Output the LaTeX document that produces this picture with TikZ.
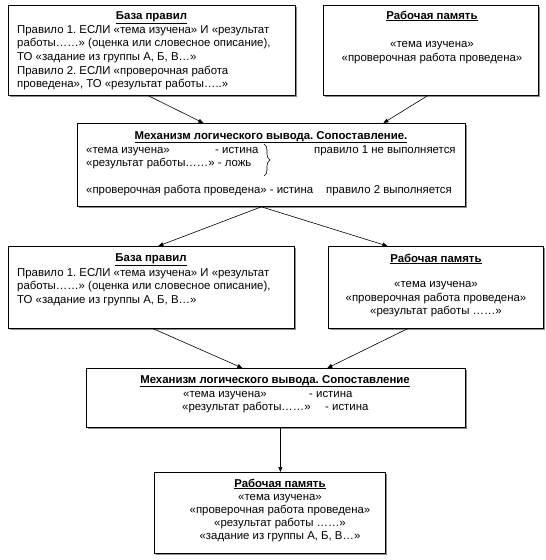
\documentclass[tikz,border=0pt]{standalone}
\usepackage{fontspec}
\setmainfont{Liberation Sans}
\frenchspacing
\usetikzlibrary{arrows.meta,shadows,decorations.pathreplacing}
\begin{document}
\begin{tikzpicture}[x=1pt,y=-1pt,
  box/.style={draw=black, line width=0.8pt, fill=white, inner sep=0pt, anchor=north west,
    drop shadow={shadow xshift=1.5pt, shadow yshift=-1.5pt, fill=black!45, opacity=1}},
  txt/.style={inner sep=0pt, font=\fontsize{11.4}{13.6}\selectfont\frenchspacing},
  lft/.style={txt, anchor=base west},
  ctr/.style={txt, anchor=base},
  arr/.style={-{Triangle[length=5pt,width=4pt]}, line width=0.6pt}]
\useasboundingbox (0,0) rectangle (546,560);
\newcommand{\ttl}[1]{\underline{\textbf{#1}}}

% boxes
\node[box, minimum width=287pt, minimum height=90pt] (b1) at (8,5) {};
\node[box, minimum width=215pt, minimum height=90pt] (b2) at (323,5) {};
\node[box, minimum width=388pt, minimum height=83pt] (b3) at (77,123) {};
\node[box, minimum width=286pt, minimum height=82pt] (b4) at (8,246) {};
\node[box, minimum width=215pt, minimum height=82pt] (b5) at (328,246) {};
\node[box, minimum width=379pt, minimum height=59pt] (b6) at (86,368) {};
\node[box, minimum width=231pt, minimum height=81pt] (b7) at (154,472) {};

% box 1
\node[ctr] (t1) at (151.5,19) {\ttl{База правил}};
\node[lft] (b1l1) at (17,33) {Правило 1. ЕСЛИ «тема изучена» И «результат};
\node[lft] (b1l2) at (17,46.7) {работы……» (оценка или словесное описание),};
\node[lft] (b1l3) at (17,60.4) {ТО «задание из группы А, Б, В…»};
\node[lft] (b1l4) at (17,74.1) {Правило 2. ЕСЛИ «проверочная работа};
\node[lft] (b1l5) at (17,87.8) {проведена», ТО «результат работы…..»};

% box 2
\node[ctr] (t2) at (432,19) {\ttl{Рабочая память}};
\node[ctr] (b2l1) at (432,47) {«тема изучена»};
\node[ctr] (b2l2) at (432,61) {«проверочная работа проведена»};

% box 3
\node[ctr] (t3) at (271,139) {\ttl{Механизм логического вывода. Сопоставление.}};
\node[lft] (b3a) at (86,153) {«тема изучена»};
\node[lft] (b3b) at (215,153) {- истина};
\node[lft] (b3c) at (314,153) {правило 1 не выполняется};
\node[lft] (b3d) at (86,166) {«результат работы……» - ложь};
\node[lft] (b3e) at (86,193) {«проверочная работа проведена» - истина};
\node[lft] (b3f) at (326,193) {правило 2 выполняется};
\draw[line width=0.6pt, decorate, decoration={brace, amplitude=6pt}] (264,144) -- (264,176);

% box 4
\node[ctr] (t4) at (151,261) {\ttl{База правил}};
\node[lft] (b4l1) at (17,276) {Правило 1. ЕСЛИ «тема изучена» И «результат};
\node[lft] (b4l2) at (17,289.5) {работы……» (оценка или словесное описание),};
\node[lft] (b4l3) at (17,303) {ТО «задание из группы А, Б, В…»};

% box 5
\node[ctr] (t5) at (436,262) {\ttl{Рабочая память}};
\node[ctr] (b5l1) at (436,287) {«тема изучена»};
\node[ctr] (b5l2) at (436,301) {«проверочная работа проведена»};
\node[ctr] (b5l3) at (436,314) {«результат работы ……»};

% box 6
\node[ctr] (t6) at (275,383) {\ttl{Механизм логического вывода. Сопоставление}};
\node[lft] (b6a) at (183,397) {«тема изучена»};
\node[lft] (b6b) at (309,397) {- истина};
\node[lft] (b6c) at (182,410) {«результат работы……»};
\node[lft] (b6d) at (325,410) {- истина};

% box 7
\node[ctr] (t7) at (280,487) {\ttl{Рабочая память}};
\node[ctr] (b7l1) at (280,500) {«тема изучена»};
\node[ctr] (b7l2) at (280,513) {«проверочная работа проведена»};
\node[ctr] (b7l3) at (280,526) {«результат работы ……»};
\node[ctr] (b7l4) at (280,539) {«задание из группы А, Б, В…»};

% arrows
\draw[arr] ([xshift=-3.5pt]b1.south) -- ([xshift=-68pt]b3.north);
\draw[arr] ([xshift=-3.5pt]b2.south) -- ([xshift=112pt]b3.north);
\draw[arr] ([xshift=-10pt]b3.south) -- ([xshift=7pt]b4.north);
\draw[arr] ([xshift=-10pt]b3.south) -- ([xshift=-48.5pt]b5.north);
\draw[arr] ([xshift=2pt]b4.south) -- ([xshift=-33.5pt]b6.north);
\draw[arr] ([xshift=-28.5pt]b5.south) -- ([xshift=51.5pt]b6.north);
\draw[arr] ([xshift=4.5pt]b6.south) -- ([xshift=10.5pt]b7.north);
\end{tikzpicture}
\end{document}
